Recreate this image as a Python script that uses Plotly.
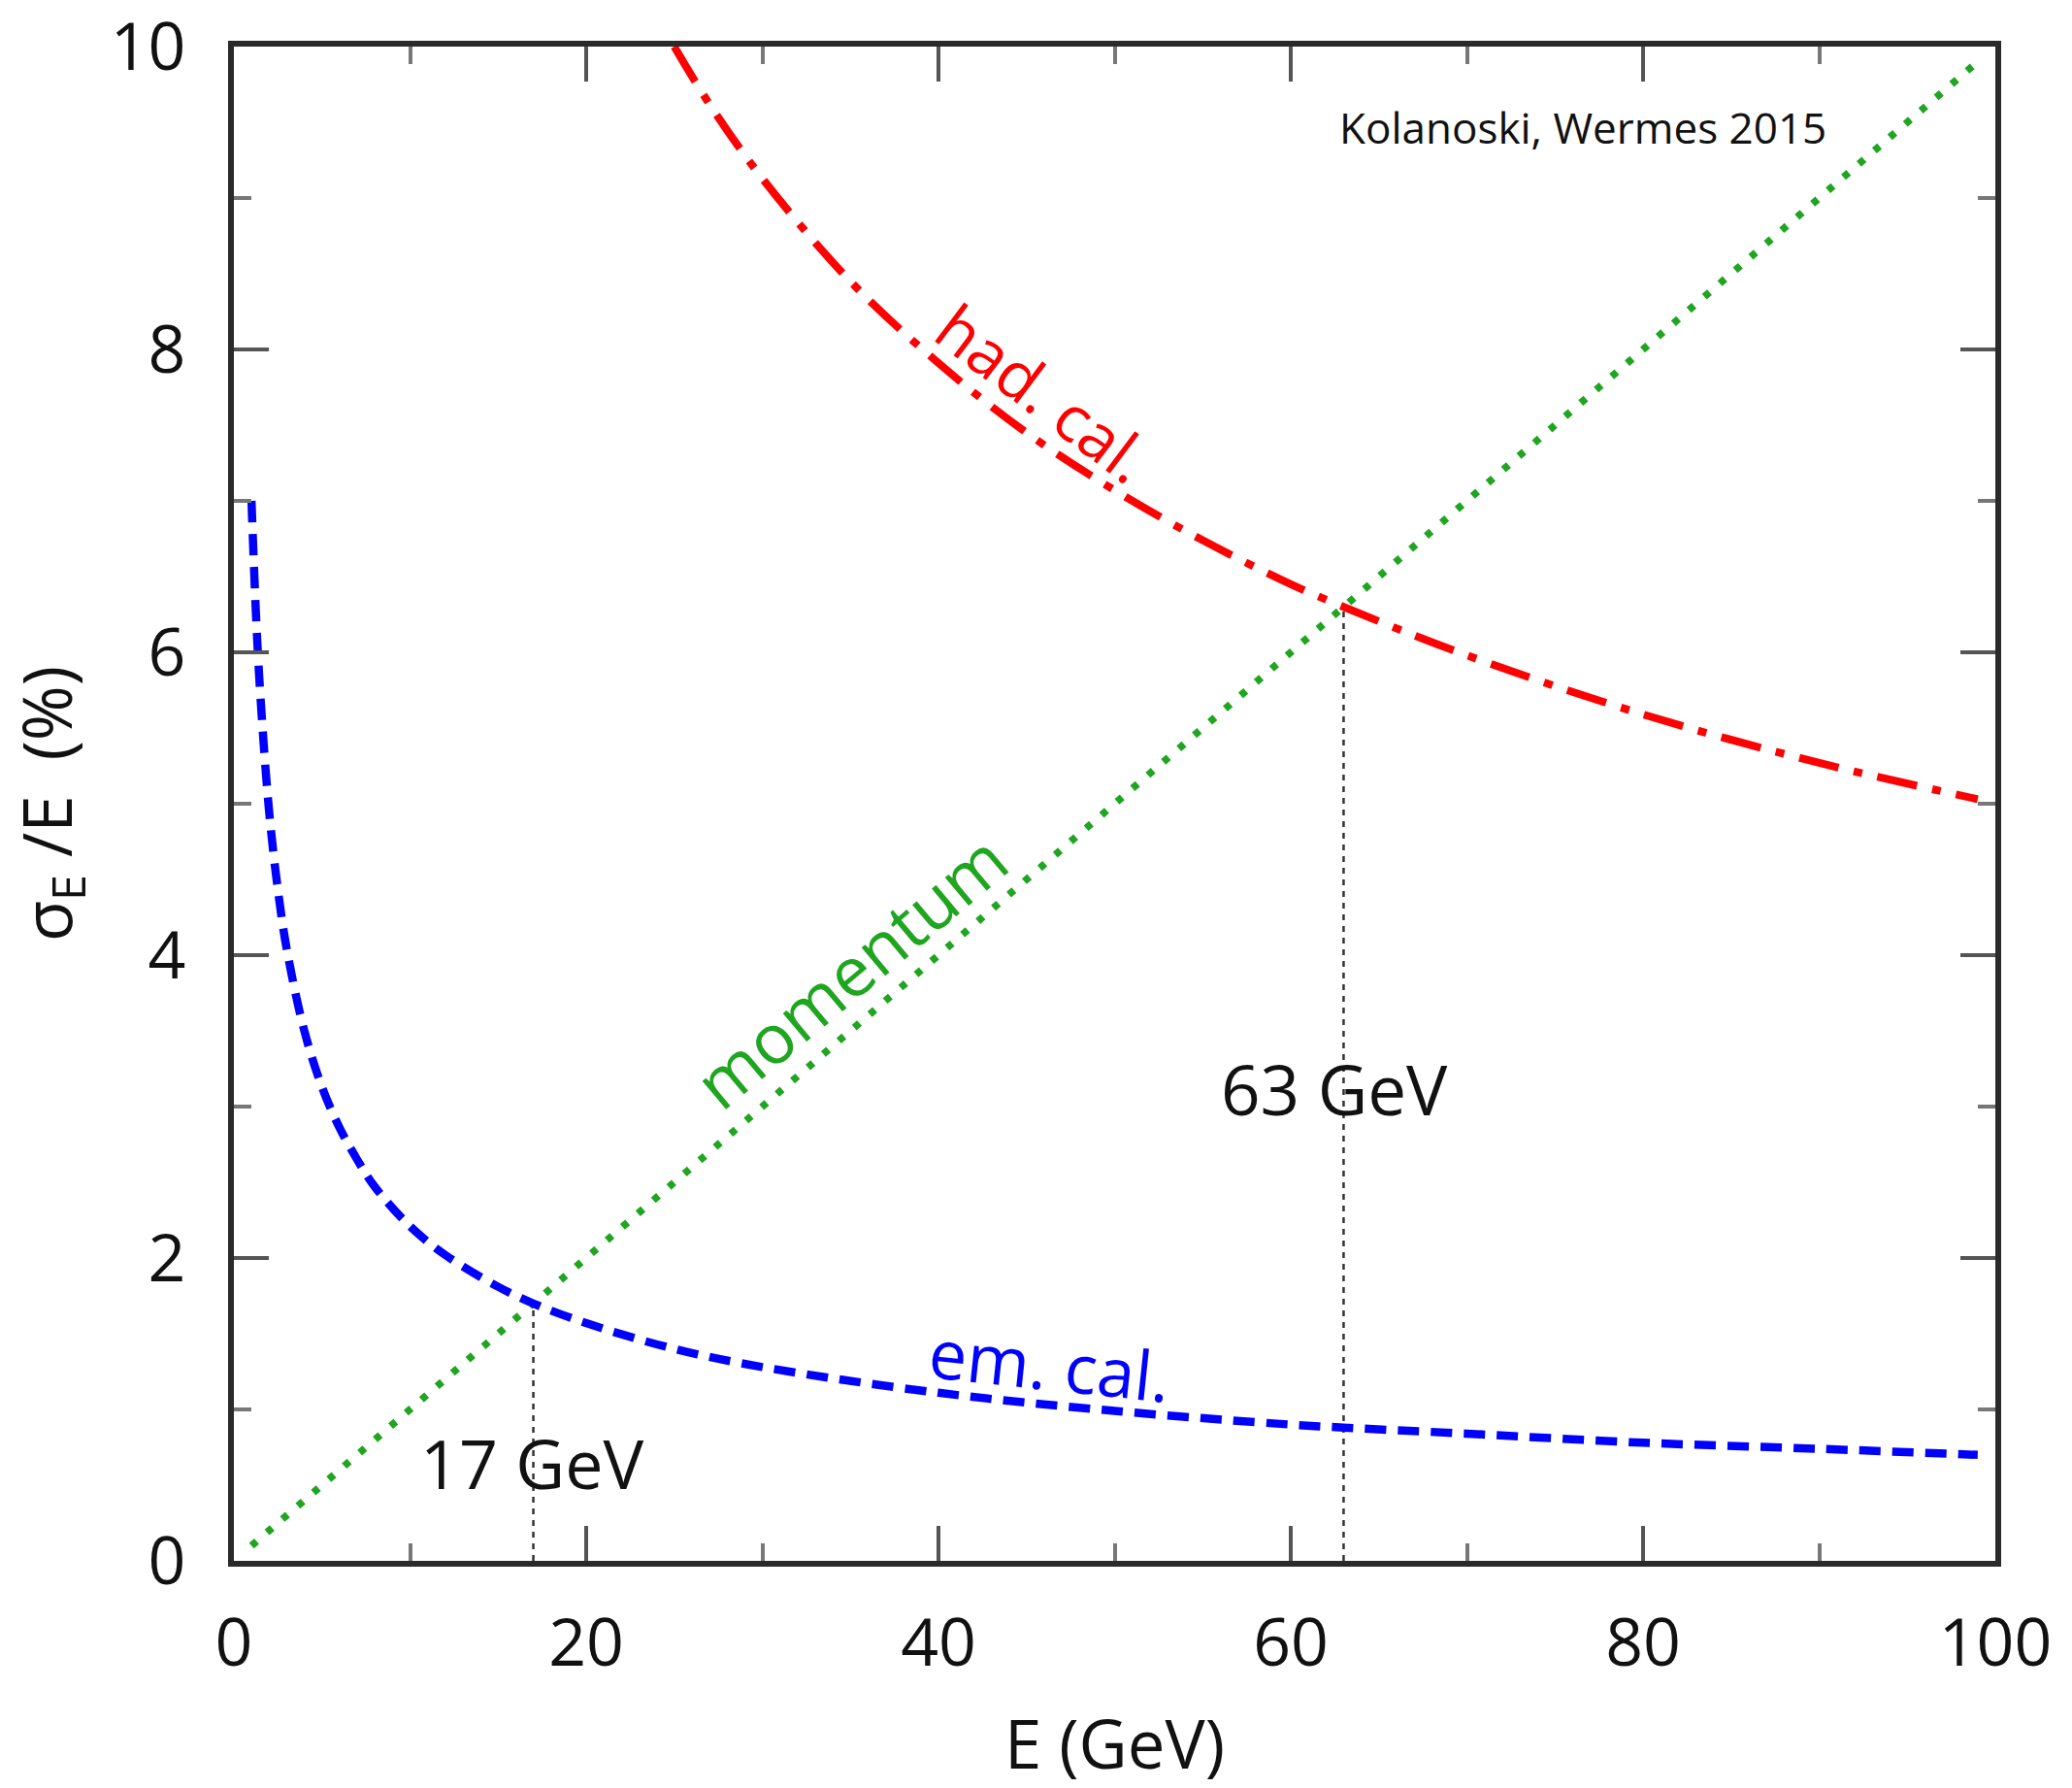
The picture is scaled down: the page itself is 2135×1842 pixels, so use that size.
import plotly.graph_objects as go

# ---- data ----
E_em = [1, 1.25, 1.5, 2, 2.5, 3, 4, 5, 6, 7, 8, 10, 12, 15, 17, 20, 25, 30, 40, 50, 60, 63, 70, 80, 90, 99]
sigma_em = [7.00, 6.26, 5.72, 4.95, 4.43, 4.04, 3.50, 3.13, 2.86, 2.65, 2.47, 2.21, 2.02, 1.81, 1.70,
            1.57, 1.40, 1.28, 1.11, 0.99, 0.90, 0.88, 0.84, 0.78, 0.74, 0.70]

E_had = [25, 27, 30, 35, 40, 45, 50, 55, 60, 63, 70, 80, 90, 99]
sigma_had = [10.0, 9.62, 9.13, 8.45, 7.91, 7.45, 7.07, 6.74, 6.45, 6.30, 5.98, 5.59, 5.27, 5.03]

E_mom = [1, 17, 63, 99]
sigma_mom = [0.1, 1.7, 6.3, 9.9]

E_cross = [17, 63]
sigma_cross = [1.7, 6.3]
cross_labels = ["17 GeV", "63 GeV"]

x_ticks = [0, 20, 40, 60, 80, 100]
y_ticks = [0, 2, 4, 6, 8, 10]

FONT = "Open Sans"
AX = "#2a2a2a"

fig = go.Figure()

# vertical guide lines at the crossings
for e, s in zip(E_cross, sigma_cross):
    fig.add_trace(go.Scatter(x=[e, e], y=[0, s], mode="lines",
                             line=dict(color="#333333", width=2.5, dash="6px,6px"),
                             showlegend=False, hoverinfo="skip"))

fig.add_trace(go.Scatter(x=E_mom, y=sigma_mom, mode="lines", name="momentum",
                         line=dict(color="#1fa51f", width=7.5, dash="7px,14px"), showlegend=False))
fig.add_trace(go.Scatter(x=E_had, y=sigma_had, mode="lines", name="had. cal.", line_shape="spline",
                         line=dict(color="#ff0000", width=8, dash="42px,16px,9px,16px"), showlegend=False))
fig.add_trace(go.Scatter(x=E_em, y=sigma_em, mode="lines", name="em. cal.", line_shape="spline",
                         line=dict(color="#0000ff", width=8.5, dash="22px,12px"), showlegend=False))

ann = [
    dict(x=46.0, y=7.72, text="had. cal.", textangle=37, font=dict(color="#ff0000", size=66)),
    dict(x=35.0, y=3.90, text="momentum", textangle=-40, font=dict(color="#1fa51f", size=71)),
    dict(x=46.3, y=1.30, text="em. cal.", textangle=6, font=dict(color="#0000ff", size=70)),
    dict(x=62.5, y=3.12, text=cross_labels[1], textangle=0, font=dict(color="#111111", size=71)),
    dict(x=16.9, y=0.65, text=cross_labels[0], textangle=0, font=dict(color="#111111", size=70)),
    dict(x=76.6, y=9.47, text="Kolanoski, Wermes 2015", textangle=0, font=dict(color="#111111", size=44)),
]
for a in ann:
    fig.add_annotation(xref="x", yref="y", showarrow=False, font_family=FONT, **a)

axis_common = dict(
    showline=True, linecolor=AX, linewidth=6, mirror="allticks",
    ticks="inside", ticklen=36, tickwidth=4, tickcolor="#555555",
    showgrid=False, zeroline=False, automargin=False, ticklabeloverflow="allow",
    tickfont=dict(family=FONT, size=68, color="#111111"),
)

fig.update_xaxes(range=[0, 100], tickvals=x_ticks, ticklabelstandoff=20,
                 minor=dict(dtick=10, ticks="inside", ticklen=18, tickwidth=4, tickcolor="#777777"),
                 title=dict(text="E (GeV)", font=dict(family=FONT, size=69, color="#111111"), standoff=47),
                 **axis_common)
fig.update_yaxes(range=[0, 10], tickvals=y_ticks, ticklabelstandoff=30,
                 minor=dict(dtick=1, ticks="inside", ticklen=18, tickwidth=4, tickcolor="#777777"),
                 title=dict(text="σ<sub>E</sub> /E&nbsp;&nbsp;(%)", font=dict(family=FONT, size=69, color="#111111"), standoff=48),
                 **axis_common)

fig.update_layout(
    width=2135, height=1842,
    margin=dict(l=241, r=79, t=48, b=234),
    paper_bgcolor="white", plot_bgcolor="white",
    font=dict(family=FONT),
)

fig.write_html("out.html")
